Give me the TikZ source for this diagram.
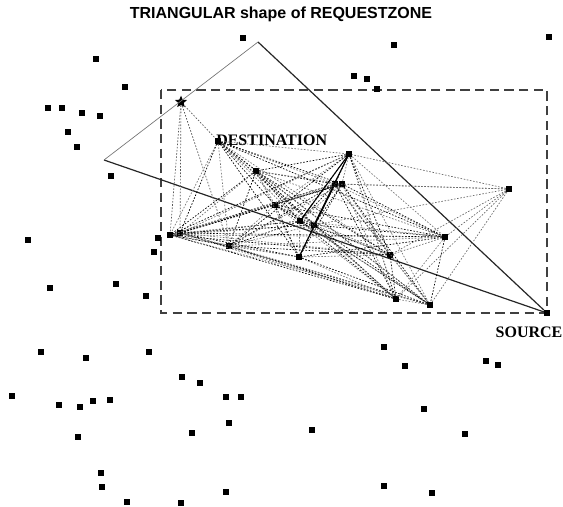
\documentclass[tikz,border=0pt]{standalone}
\usepackage{fontspec}
\setmainfont{Liberation Serif}
\newfontfamily\headfont{Liberation Sans}
\usetikzlibrary{shapes.geometric}

\tikzset{
  sensor/.style={fill=black, inner sep=0pt, minimum size=4.3pt},
  zone/.style={draw=black!75, line width=0.9pt, dash pattern=on 7pt off 4pt},
  border/.style={draw=black!85, line width=0.9pt},
  link/.style={line width=0.5pt, dash pattern=on 1.2pt off 1.2pt},
  tag/.style={font=\bfseries\fontsize{12}{14}\selectfont, inner sep=0pt}
}

\begin{document}
\begin{tikzpicture}[x=0.75pt, y=-0.75pt]
\useasboundingbox (0,0) rectangle (563,506);

\node [font=\headfont\bfseries\fontsize{12}{14}\selectfont] (title) at (281,14)
  {TRIANGULAR shape of REQUESTZONE};

% request zone
\draw [zone] (161,90) rectangle (547,313);

% nodes outside the zone
\foreach \x/\y [count=\i] in {243/38, 394/45, 549/37, 96/59, 125/87, 354/76,
    367/79, 377/89, 48/108, 62/108, 82/113, 100/116, 68/132, 77/147, 111/176,
    28/240, 158/238, 154/252, 50/288, 116/284, 146/296, 41/352, 86/358,
    149/352, 384/347, 405/366, 486/361, 498/365, 12/396, 59/405, 80/407,
    93/401, 110/400, 182/377, 200/383, 226/397, 241/397, 424/409, 229/423,
    192/433, 312/430, 465/434, 78/437, 101/473, 102/487, 127/502, 181/503,
    226/492, 384/486, 432/493}
  \node [sensor] (out-\i) at (\x,\y) {};

% nodes inside the zone
\foreach \n/\x/\y in {D/218/141, a/256/171, b/275/205, c/300/221, d/314/225,
    e/335/184, f/342/184, g/349/154, h/509/189, i/445/237, j/390/255,
    k/299/257, l/396/299, m/430/305, n/170/235, o/180/233, p/229/246}
  \node [sensor] (zone-\n) at (\x,\y) {};

\node [star, star points=5, star point ratio=2.2, fill=black, inner sep=0pt,
  minimum size=9.5pt] (star) at (181,102) {};
\node [sensor] (source) at (547,313) {};

\node [tag, anchor=west] (dest-label) at (216,140) {DESTINATION};
\node [tag] (source-label) at (529,332) {SOURCE};

% triangle
\coordinate (apex) at (258,42);
\coordinate (left) at (104,160);
\draw [border] (apex) -- (source);
\draw [border] (left) -- (source);
\draw [black!55, line width=0.5pt] (left) -- (apex);

% links between zone nodes
\foreach \u [count=\i] in {D,a,b,c,d,e,f,g,i,j,k,l,m,n,o,p}
  \foreach \v [count=\j] in {D,a,b,c,d,e,f,g,i,j,k,l,m,n,o,p}
    {
      \ifnum\j>\i
        \ifodd\numexpr\i+\j\relax
          \draw [link, black!55] (zone-\u) -- (zone-\v);
        \else
          \draw [link, black] (zone-\u) -- (zone-\v);
        \fi
      \fi
    }

\foreach \v in {D,n,o,p}
  \draw [link, black!65] (star) -- (zone-\v);

\foreach \v in {g,e,f,d,i,j,l,m}
  \draw [link, black!60] (zone-h) -- (zone-\v);

% route
\draw [black, line width=0.8pt] (zone-g) -- (zone-c);
\draw [black, line width=0.8pt] (zone-g) -- (zone-d);
\draw [black, line width=0.8pt] (zone-e) -- (zone-k);

\end{tikzpicture}
\end{document}
